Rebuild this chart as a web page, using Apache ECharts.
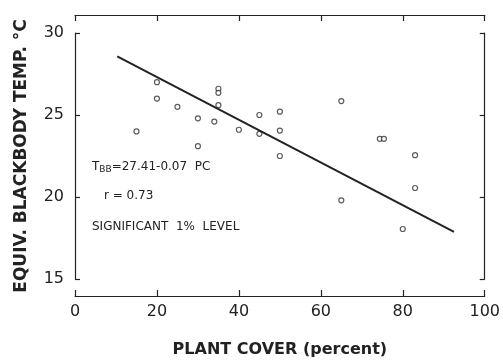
<!DOCTYPE html>
<html>
<head>
<meta charset="utf-8">
<script src="https://cdn.jsdelivr.net/npm/echarts@6/dist/echarts.min.js"></script>
<style>
  html, body { margin: 0; padding: 0; background: #fff; }
  #chart { width: 503px; height: 363px; }
</style>
</head>
<body>
<div id="chart"></div>
<script>
// plant cover (%) and equivalent blackbody temperature (deg C) for each site
const plantCover = [15, 20, 20, 25, 30, 30, 34, 35, 35, 35, 40, 45, 45, 50, 50, 50, 65, 65, 74.4, 75.4, 83, 83, 80];
const bbTemp = [24.0, 27.0, 26.0, 25.5, 24.8, 23.1, 24.6, 26.6, 26.35, 25.6, 24.1, 25.0, 23.85, 25.2, 24.05, 22.5, 25.85, 19.8, 23.55, 23.55, 22.55, 20.55, 18.05];

// regression line ends, as drawn
const fitCover = [10.3, 92.5];
const fitTemp = [28.57, 17.87];

const xTicks = [0, 20, 40, 60, 80, 100];
const yTicks = [15, 20, 25, 30];

const ink = '#222';
const font = 'DejaVu Sans';

const chartDom = document.getElementById('chart');
const myChart = echarts.init(chartDom);

const points = plantCover.map((c, i) => [c, bbTemp[i]]);
const fitLine = fitCover.map((c, i) => [c, fitTemp[i]]);

const xBase = {
    type: 'value',
    min: xTicks[0],
    max: xTicks[xTicks.length - 1],
    interval: 20,
    splitLine: { show: false },
    axisLine: { show: true, onZero: false, lineStyle: { color: ink, width: 1.2 } },
    axisTick: { show: true, inside: true, length: 6, lineStyle: { color: ink, width: 1.2 } }
};
const yBase = {
    type: 'value',
    min: yTicks[0],
    max: yTicks[yTicks.length - 1],
    interval: 5,
    splitLine: { show: false },
    axisLine: { show: true, onZero: false, lineStyle: { color: ink, width: 1.2 } },
    axisTick: { show: true, inside: true, length: 5, lineStyle: { color: ink, width: 1.2 } }
};

const option = {
    backgroundColor: '#fff',
    animation: false,
    grid: {
        left: 75,
        right: 18,
        top: 33,
        bottom: 83
    },
    xAxis: [
        Object.assign({}, xBase, {
            position: 'bottom',
            offset: 17,
            name: 'PLANT COVER (percent)',
            nameLocation: 'middle',
            nameGap: 46,
            nameTextStyle: { fontFamily: font, fontSize: 16, fontWeight: 'bold', color: ink },
            axisLabel: { fontFamily: font, fontSize: 16, color: ink, margin: 8 }
        }),
        Object.assign({}, xBase, {
            position: 'top',
            offset: 18,
            axisLabel: { show: false }
        })
    ],
    yAxis: [
        Object.assign({}, yBase, {
            position: 'left',
            name: 'EQUIV. BLACKBODY TEMP. \u00B0C',
            nameLocation: 'middle',
            nameGap: 45,
            nameTextStyle: { fontFamily: font, fontSize: 17, fontWeight: 'bold', color: ink },
            axisLabel: { fontFamily: font, fontSize: 16, color: ink, margin: 11 }
        }),
        Object.assign({}, yBase, {
            position: 'right',
            axisLabel: { show: false }
        })
    ],
    graphic: [
        {
            type: 'text',
            left: 92,
            top: 161,
            style: {
                text: '{m|T}{s|BB}{m|=27.41-0.07  PC}',
                rich: {
                    m: { fontFamily: font, fontSize: 12, fill: ink },
                    s: { fontFamily: font, fontSize: 9, fill: ink, padding: [5, 0, 0, 0] }
                }
            }
        },
        {
            type: 'text',
            left: 104,
            top: 190,
            style: { text: 'r = 0.73', fontFamily: font, fontSize: 12, fill: ink }
        },
        {
            type: 'text',
            left: 92,
            top: 221,
            style: { text: 'SIGNIFICANT  1%  LEVEL', fontFamily: font, fontSize: 12, fill: ink }
        }
    ],
    series: [
        {
            name: 'Sites',
            type: 'scatter',
            symbol: 'circle',
            symbolSize: 5,
            itemStyle: { color: '#fff', borderColor: '#333', borderWidth: 1.2 },
            data: points
        },
        {
            name: 'Fit',
            type: 'line',
            symbol: 'none',
            lineStyle: { color: ink, width: 2 },
            data: fitLine
        }
    ]
};

option && myChart.setOption(option);
</script>
</body>
</html>
